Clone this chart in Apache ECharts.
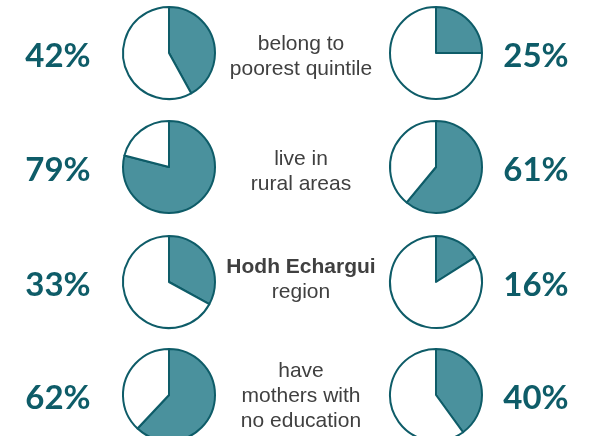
<!DOCTYPE html>
<html>
<head>
<meta charset="utf-8">
<script src="https://cdn.jsdelivr.net/npm/echarts@6/dist/echarts.min.js"></script>
<style>
  html, body { margin: 0; padding: 0; background: #ffffff; }
  #chart { width: 593px; height: 436px; }
</style>
</head>
<body>
<div id="chart"></div>
<script>
const leftValues = [42, 79, 33, 62];
const rightValues = [25, 61, 16, 40];
const captions = [
  ['belong to', 'poorest quintile'],
  ['live in', 'rural areas'],
  ['{b|Hodh Echargui}', 'region'],
  ['have', 'mothers with', 'no education'],
];

const rowY = [53, 167, 282, 395];
const captionY = [57, 172, 280, 396];
const leftX = 169;
const rightX = 436;
const radius = 46;
const teal = '#0e5c68';
const fill = '#4a919d';

function pieSeries(value, x, y) {
  return {
    type: 'pie',
    center: [x, y],
    radius: radius,
    startAngle: 90,
    clockwise: true,
    silent: true,
    label: { show: false },
    labelLine: { show: false },
    itemStyle: { borderColor: teal, borderWidth: 2 },
    data: [
      { value: value, itemStyle: { color: fill } },
      { value: 100 - value, itemStyle: { color: '#ffffff' } },
    ],
  };
}

const series = [];
const graphic = [];
rowY.forEach((y, i) => {
  series.push(pieSeries(leftValues[i], leftX, y));
  series.push(pieSeries(rightValues[i], rightX, y));

  graphic.push({
    type: 'text',
    x: 58, y: y + 3,
    style: {
      text: leftValues[i] + '%',
      fill: teal,
      font: 'bold 33px Lato',
      align: 'center',
      verticalAlign: 'middle',
    },
  });
  graphic.push({
    type: 'text',
    x: 536, y: y + 3,
    style: {
      text: rightValues[i] + '%',
      fill: teal,
      font: 'bold 33px Lato',
      align: 'center',
      verticalAlign: 'middle',
    },
  });

  const lineHeight = 25;
  graphic.push({
    type: 'text',
    x: 301,
    y: captionY[i],
    style: {
      text: captions[i].join('\n'),
      fill: '#404040',
      fontFamily: 'Liberation Sans',
      fontSize: 21,
      lineHeight: lineHeight,
      align: 'center',
      verticalAlign: 'middle',
      rich: {
        b: { fontWeight: 'bold', fontSize: 21, fontFamily: 'Liberation Sans', fill: '#404040', lineHeight: lineHeight },
      },
    },
  });
});

const chart = echarts.init(document.getElementById('chart'));
chart.setOption({
  animation: false,
  series: series,
  graphic: graphic,
});
</script>
</body>
</html>
